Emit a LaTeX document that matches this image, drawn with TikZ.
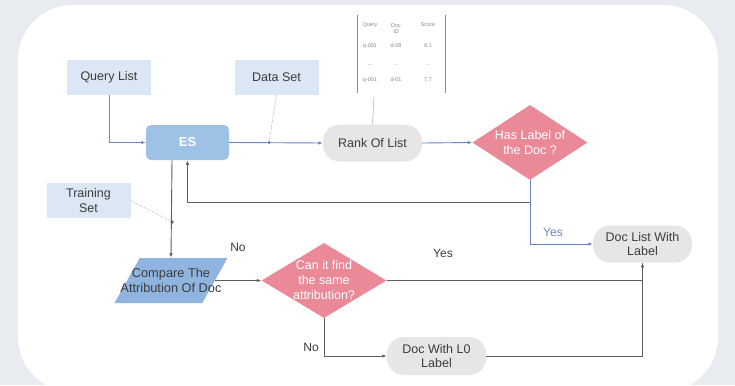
\documentclass[tikz,border=0pt]{standalone}
\usepackage{fontspec}
\setmainfont{Liberation Sans}
\usepackage{xcolor}
\usetikzlibrary{shapes,arrows,arrows.meta}
\usetikzlibrary{calc}
\definecolor{bgcol}{HTML}{E8ECF1}
\definecolor{inblue}{HTML}{DBE7F4}
\definecolor{esblue}{HTML}{9EC1E6}
\definecolor{parablue}{HTML}{8FB4DF}
\definecolor{pillgray}{HTML}{E6E6E6}
\definecolor{pinkdec}{HTML}{EA8A98}
\definecolor{lineblue}{HTML}{6B86C6}
\definecolor{linegray}{HTML}{5E5E5E}
\definecolor{txt}{HTML}{3C3C3C}
\definecolor{tabgray}{HTML}{8A8A8A}
\tikzset{
    inbox/.style={fill=inblue, minimum width=84pt, minimum height=35pt, inner sep=1pt, align=center, text=txt, font=\fontsize{12.5}{14.5}\selectfont},
    esbox/.style={fill=esblue, rounded corners=5pt, minimum width=83pt, minimum height=35pt, text=white, font=\fontsize{13}{15}\selectfont\bfseries},
    pill/.style={fill=pillgray, rounded corners=17pt, minimum width=99pt, minimum height=37pt, inner sep=1pt, align=center, text=txt, font=\fontsize{12.5}{14.5}\selectfont},
    decision/.style={diamond, fill=pinkdec, minimum width=115pt, minimum height=75pt, inner sep=1pt},
    dtext/.style={align=center, text=white, inner sep=0pt, font=\fontsize{12.5}{15}\selectfont},
    para/.style={trapezium, trapezium left angle=68, trapezium right angle=112, trapezium stretches=true, fill=parablue, minimum width=113pt, minimum height=45pt, inner sep=1pt},
    ptext/.style={align=center, text=txt, inner sep=0pt, font=\fontsize{12.8}{15}\selectfont},
    tab/.style={text=tabgray, inner sep=0pt, font=\fontsize{5.5}{6.5}\selectfont, align=center},
    lab/.style={text=txt, inner sep=0pt, font=\fontsize{12}{14}\selectfont},
    blueline/.style={draw=lineblue, line width=0.9pt},
    grayline/.style={draw=linegray, line width=0.9pt},
    dotline/.style={draw=tabgray, line width=0.5pt, densely dotted},
    jdot/.style={circle, fill=#1, inner sep=0pt, minimum size=3.5pt}
}

\begin{document}
\begin{tikzpicture}[x=1pt,y=-1pt]
\useasboundingbox (0,0) rectangle (735,385);
\fill[bgcol] (0,0) rectangle (735,385);
\fill[white, rounded corners=55pt] (18,5) rectangle (718,392);

\coordinate (QL) at (109,77.5);
\coordinate (DS) at (276.5,77.5);
\coordinate (ES) at (187.5,142.5);
\coordinate (RL) at (372.5,143);
\coordinate (HL) at (530,142.5);
\coordinate (TS) at (88.5,200.5);
\coordinate (CA) at (171,280.5);
\coordinate (CF) at (324,280.5);
\coordinate (DL) at (642.5,244);
\coordinate (L0) at (436.5,356);

\node[inbox] (qlist) at (QL) {Query List};
\node[inbox] (dset) at (DS) {Data Set};
\node[esbox] (es) at (ES) {ES};
\node[pill] (rank) at (RL) {Rank Of List};
\node[decision] (haslab) at (HL) {};
\node[dtext] (haslabtxt) at (HL) {Has Label of\\the Doc ?};
\node[inbox] (tset) at (TS) {Training\\Set};
\node[para] (cmp) at (CA) {};
\node[ptext] (cmptxt) at (CA) {Compare The\\Attribution Of Doc};
\node[decision, minimum width=125pt] (canfind) at (CF) {};
\node[dtext] (canfindtxt) at (CF) {Can it find\\the same\\attribution?};
\node[pill] (doclist) at (DL) {Doc List With\\Label};
\node[pill, minimum height=38pt] (docl0) at (L0) {Doc With L0\\Label};

% score table
\node[tab] (tq) at (370,25) {Query};
\node[tab] (td) at (396,28.5) {Doc\\ID};
\node[tab] (tsc) at (428,25) {Score};
\node[tab] (r1a) at (370,46) {q-001};
\node[tab] (r1b) at (396,46) {d-08};
\node[tab] (r1c) at (428,46) {9.1};
\node[tab] (r2a) at (370,65) {...};
\node[tab] (r2b) at (396,65) {...};
\node[tab] (r2c) at (428,65) {...};
\node[tab] (r3a) at (370,80) {q-001};
\node[tab] (r3b) at (396,80) {d-01};
\node[tab] (r3c) at (428,80) {7.7};
\draw[tabgray, line width=0.7pt] (357,15) -- (357,93);
\draw[tabgray, line width=0.7pt] (445,15) -- (445,93);
\coordinate (tabbot) at (374,97);
\draw[tabgray!70, line width=0.5pt] (tabbot) -- (rank.north);

\coordinate (dsdot) at (269,142.5);
\coordinate (tsdot) at (172,222);
\coordinate (esout) at (172,160);
\coordinate (back) at (530,202);

\draw[blueline, -{Latex[length=1.6mm]}] (qlist.south) |- (es.west);
\draw[blueline, -{Latex[length=1.6mm]}] (es.east) -- (rank.west);
\draw[dotline] (dset.south) -- (dsdot);
\node[jdot=lineblue] (dsjoin) at (dsdot) {};
\draw[blueline, -{Latex[length=1.6mm]}] (rank.east) -- (haslab.west);
\draw[blueline, -{Latex[length=1.6mm]}] (haslab.south) |- (doclist.west);
\node[lab, text=lineblue] (yes1) at (553,232) {Yes};

\draw[grayline, -{Latex[length=1.6mm]}] (back) -| (es.south);
\draw[grayline, -{Latex[length=1.6mm]}] (esout) -- (cmp.north);
\draw[dotline] (tset.east) -- (tsdot);
\node[jdot=linegray] (tsjoin) at (tsdot) {};

\draw[grayline, -{Latex[length=1.6mm]}] (cmp.east) -- (canfind.west);
\node[lab] (no1) at (238,247) {No};
\draw[grayline, -{Latex[length=1.6mm]}] (canfind.east) -| (doclist.south);
\node[lab] (yes2) at (443,253) {Yes};
\draw[grayline, -{Latex[length=1.6mm]}] (canfind.south) |- (docl0.west);
\node[lab] (no2) at (311,347) {No};
\draw[grayline] (docl0.east) -| (doclist.south);
\end{tikzpicture}
\end{document}
